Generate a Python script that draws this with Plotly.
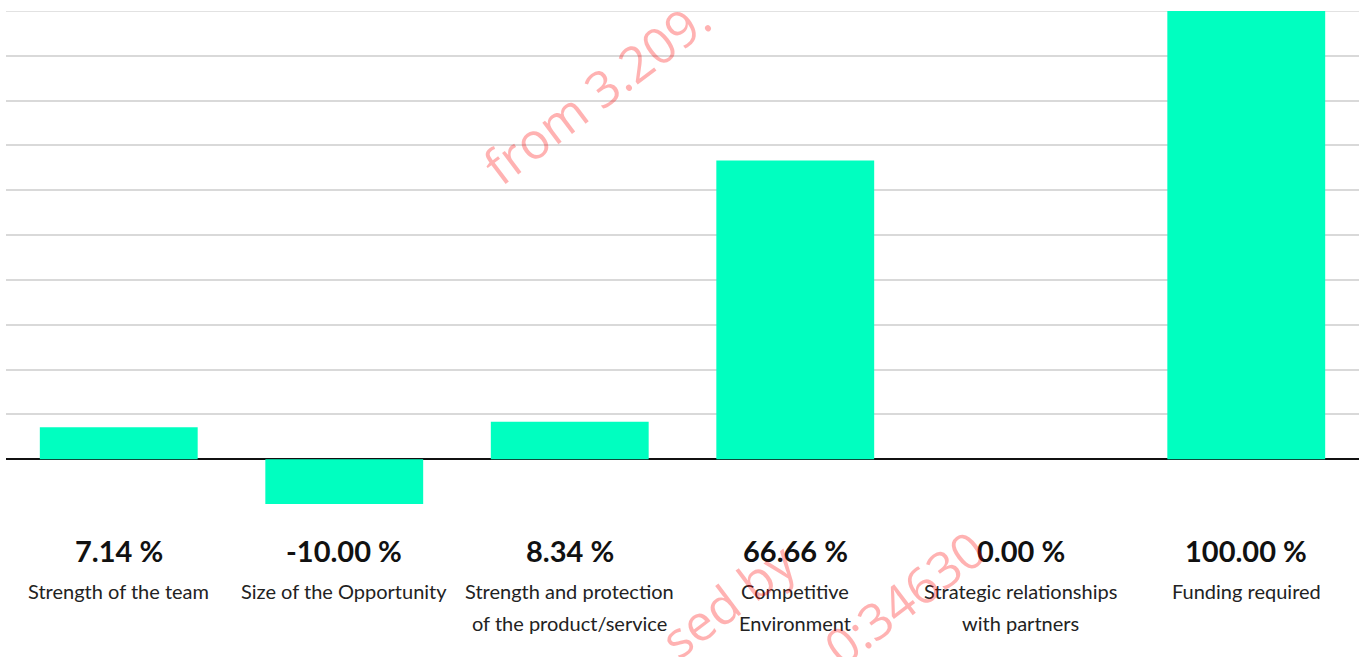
import plotly.graph_objects as go

categories = ["Strength of the team", "Size of the Opportunity",
              "Strength and protection of the product/service",
              "Competitive Environment", "Strategic relationships with partners",
              "Funding required"]
values = [7.14, -10.00, 8.34, 66.66, 0.00, 100.00]
label_lines = [["Strength of the team"], ["Size of the Opportunity"],
               ["Strength and protection", "of the product/service"],
               ["Competitive", "Environment"],
               ["Strategic relationships", "with partners"],
               ["Funding required"]]
watermarks = ["from 3.209.", "sed by", "0:34630"]
y_min, y_max = -10, 100

W, H = 1360, 657
mt, mb, ml, mr = 11, 153, 6, 1
plot_h = H - mt - mb

def py(pixel_y):
    return (H - mb - pixel_y) / plot_h

def px(pixel_x):
    return (pixel_x - ml) / (W - ml - mr)

FONT = "Lato"

fig = go.Figure()
fig.add_trace(go.Bar(x=categories, y=values, marker=dict(color="#00FFC0", line=dict(width=0)),
                     hoverinfo="skip"))

annotations = []
for cat, v, lines in zip(categories, values, label_lines):
    annotations.append(dict(x=cat, y=py(550), xref="x", yref="paper", text=f"<b>{v:.2f} %</b>",
                            showarrow=False, font=dict(family=FONT, size=29, color="#111111"),
                            xanchor="center", yanchor="middle"))
    for i, line in enumerate(lines):
        annotations.append(dict(x=cat, y=py(591 + 32 * i), xref="x", yref="paper", text=line,
                                showarrow=False, font=dict(family=FONT, size=20, color="#222222"),
                                xanchor="center", yanchor="middle"))

wm_pos = [(596, 92), (728, 600), (904, 598)]
for t, (x0, y0) in zip(watermarks, wm_pos):
    annotations.append(dict(x=px(x0), y=py(y0), xref="paper", yref="paper", text=t,
                            showarrow=False, textangle=-37,
                            font=dict(family="Open Sans", size=50, color="rgba(255,0,0,0.3)"),
                            xanchor="center", yanchor="middle"))

fig.update_layout(
    width=W, height=H,
    margin=dict(l=ml, r=mr, t=mt, b=mb),
    paper_bgcolor="white", plot_bgcolor="white",
    bargap=0.3, showlegend=False,
    xaxis=dict(showticklabels=False, showgrid=False, zeroline=False, ticks=""),
    yaxis=dict(range=[y_min, y_max], dtick=10, showticklabels=False, showgrid=True,
               gridcolor="#d9d9d9", gridwidth=1.5, zeroline=True, zerolinecolor="#111111",
               zerolinewidth=1.5, ticks=""),
    shapes=[dict(type="line", xref="paper", yref="y", x0=0, x1=1, y0=y_max, y1=y_max,
                 line=dict(color="#d9d9d9", width=1.5), layer="below")],
    annotations=annotations,
)

fig.write_html("out.html", config={"displayModeBar": False},
               post_script="document.body.style.margin='0px';")
